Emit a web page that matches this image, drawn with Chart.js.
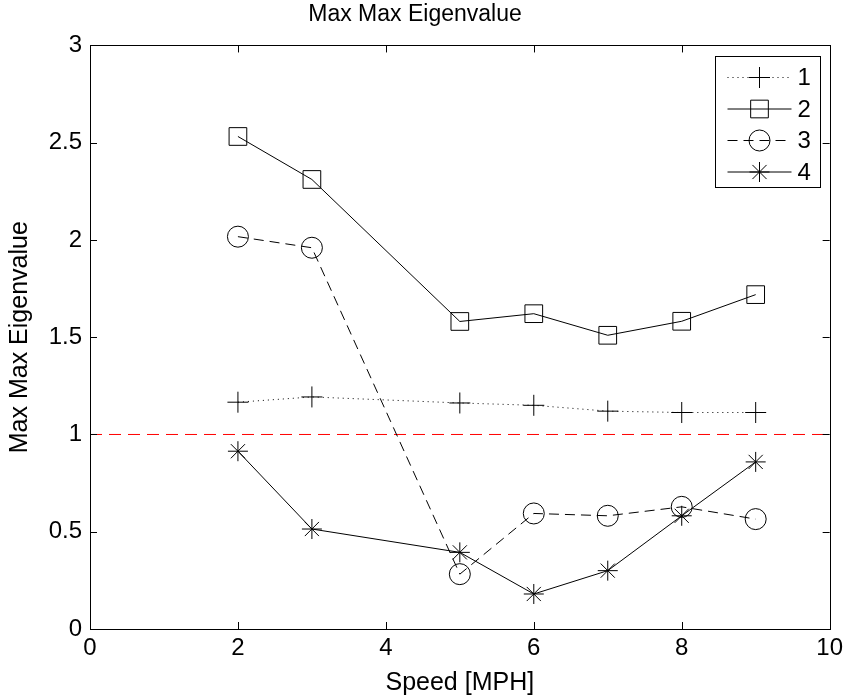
<!DOCTYPE html>
<html>
<head>
<meta charset="utf-8">
<script src="https://cdn.jsdelivr.net/npm/chart.js@4/dist/chart.umd.min.js"></script>
<style>
  html, body { margin: 0; padding: 0; background: #fff; }
  #wrap { width: 848px; height: 700px; }
</style>
</head>
<body>
<div id="wrap"><canvas id="chart" width="848" height="700"></canvas></div>
<script>
// values
var speeds = [2, 3, 5, 6, 7, 8, 9];
var series1 = [1.166, 1.193, 1.162, 1.150, 1.120, 1.113, 1.113];
var series2 = [2.532, 2.311, 1.581, 1.621, 1.510, 1.582, 1.719];
var series3 = [2.017, 1.960, 0.282, 0.594, 0.582, 0.628, 0.565];
var series4 = [0.914, 0.514, 0.394, 0.180, 0.300, 0.582, 0.859];
var seriesNames = ['1', '2', '3', '4'];
var thresholdX = [0, 10];
var threshold = 1;

var FONT = "'Liberation Sans', Arial, Helvetica, sans-serif";

function pts(xs, ys) {
    return xs.map(function(x, i) { return {x: x, y: ys[i]}; });
}

function seriesSet(name, ys, style, radius, dash) {
    return {
        label: name,
        data: pts(speeds, ys),
        borderColor: '#000',
        borderWidth: 1,
        borderDash: dash,
        pointStyle: style,
        pointRadius: radius,
        pointBorderColor: '#000',
        pointBorderWidth: 1,
        pointBackgroundColor: 'rgba(0,0,0,0)',
        fill: false,
        tension: 0
    };
}

// frame with inward ticks on all four sides, matlab style
var framePlugin = {
    id: 'frame',
    afterDraw: function(chart) {
        var ctx = chart.ctx, a = chart.chartArea;
        var xs = chart.scales.x, ys = chart.scales.y;
        var len = 7;
        ctx.save();
        ctx.strokeStyle = '#000';
        ctx.lineWidth = 1;
        ctx.setLineDash([]);
        ctx.beginPath();
        xs.ticks.forEach(function(t) {
            var px = Math.round(xs.getPixelForValue(t.value)) + 0.5;
            ctx.moveTo(px, a.bottom); ctx.lineTo(px, a.bottom - len);
            ctx.moveTo(px, a.top); ctx.lineTo(px, a.top + len);
        });
        ys.ticks.forEach(function(t) {
            var py = Math.round(ys.getPixelForValue(t.value)) + 0.5;
            ctx.moveTo(a.left, py); ctx.lineTo(a.left + len, py);
            ctx.moveTo(a.right, py); ctx.lineTo(a.right - len, py);
        });
        ctx.stroke();
        ctx.strokeRect(Math.round(a.left) + 0.5, Math.round(a.top) + 0.5,
                       Math.round(a.right - a.left), Math.round(a.bottom - a.top));
        ctx.restore();
    }
};

// legend box with line + marker samples
var legendPlugin = {
    id: 'matlabLegend',
    afterDraw: function(chart) {
        var ctx = chart.ctx, a = chart.chartArea;
        var boxW = 105, boxH = 131;
        var bx = Math.round(a.right - 10 - boxW) + 0.5;
        var by = Math.round(a.top + 11) + 0.5;
        ctx.save();
        ctx.fillStyle = '#fff';
        ctx.fillRect(bx, by, boxW, boxH);
        ctx.strokeStyle = '#000';
        ctx.lineWidth = 1;
        ctx.setLineDash([]);
        ctx.strokeRect(bx, by, boxW, boxH);
        ctx.font = '24px ' + FONT;
        ctx.textBaseline = 'middle';
        ctx.textAlign = 'left';
        var idx = 0;
        chart.data.datasets.forEach(function(ds) {
            if (ds.hideInLegend) return;
            var cy = by + 21 + idx * 31.5;
            ctx.setLineDash(ds.borderDash || []);
            ctx.beginPath();
            ctx.moveTo(bx + 12, cy);
            ctx.lineTo(bx + 76, cy);
            ctx.stroke();
            ctx.setLineDash([]);
            ctx.fillStyle = 'rgba(0,0,0,0)';
            Chart.helpers.drawPoint(ctx, {
                pointStyle: ds.pointStyle, radius: ds.pointRadius, rotation: 0, borderWidth: 1
            }, bx + 44, cy);
            ctx.fillStyle = '#000';
            ctx.fillText(ds.label, bx + 82, cy + 1);
            idx++;
        });
        ctx.restore();
    }
};

var datasets = [
    seriesSet(seriesNames[0], series1, 'cross', 10.5, [1, 4]),
    seriesSet(seriesNames[1], series2, 'rect', 12.5, []),
    seriesSet(seriesNames[2], series3, 'circle', 10.5, [10, 6]),
    seriesSet(seriesNames[3], series4, 'star', 10, []),
    {
        label: 'threshold',
        hideInLegend: true,
        data: thresholdX.map(function(x) { return {x: x, y: threshold}; }),
        borderColor: '#ff0000',
        borderWidth: 1,
        borderDash: [12, 7],
        pointRadius: 0,
        fill: false
    }
];

new Chart(document.getElementById('chart'), {
    type: 'line',
    data: { datasets: datasets },
    plugins: [framePlugin, legendPlugin],
    options: {
        responsive: false,
        animation: false,
        events: [],
        layout: { padding: { left: 0, right: 18, top: 0, bottom: 0 } },
        plugins: {
            legend: { display: false },
            tooltip: { enabled: false },
            title: {
                display: true,
                text: 'Max Max Eigenvalue',
                color: '#000',
                font: { family: FONT, size: 23, weight: 'normal', lineHeight: 1.15 },
                padding: { top: 1, bottom: 18 }
            }
        },
        scales: {
            x: {
                type: 'linear',
                min: 0, max: 10,
                ticks: {
                    stepSize: 2, color: '#000', padding: 5,
                    font: { family: FONT, size: 24 },
                    maxRotation: 0
                },
                grid: { display: false, drawTicks: false },
                border: { display: false },
                title: {
                    display: true, text: 'Speed [MPH]', color: '#000',
                    font: { family: FONT, size: 25, lineHeight: 1.1 }, padding: { top: 0, bottom: 3 }
                },
                afterFit: function(s) { s.height = 71; }
            },
            y: {
                type: 'linear',
                min: 0, max: 3,
                ticks: {
                    stepSize: 0.5, color: '#000', padding: 8,
                    font: { family: FONT, size: 24 },
                    callback: function(v) { return String(v); }
                },
                grid: { display: false, drawTicks: false },
                border: { display: false },
                title: {
                    display: true, text: 'Max Max Eigenvalue', color: '#000',
                    font: { family: FONT, size: 25, lineHeight: 1.1 }, padding: { top: 6, bottom: 0 }
                },
                afterFit: function(s) { s.width = 90; }
            }
        }
    }
});
</script>
</body>
</html>
